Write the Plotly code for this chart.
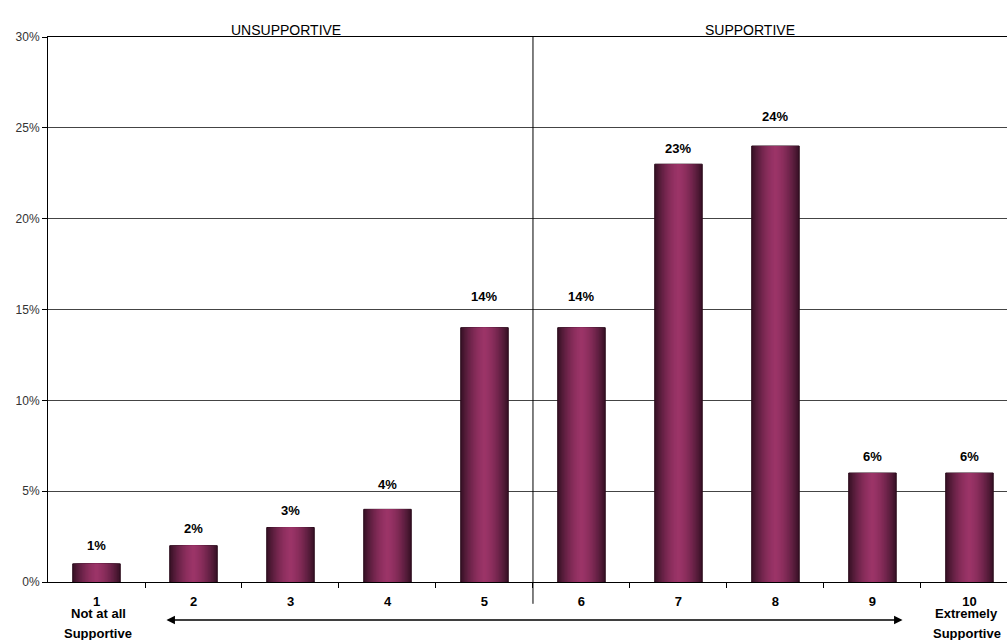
import plotly.graph_objects as go

# Survey distribution: share of respondents at each point of a 1-10 scale
scale_points = list(range(1, 11))
tick_labels = ["1", "2", "3", "4", "5", "6", "7", "8", "9", "10"]
shares = [1, 2, 3, 4, 14, 14, 23, 24, 6, 6]
label_lift = [18, 17, 17, 25, 31, 31, 16, 30, 17, 17]  # px gap between bar top and its label

FONT = "Liberation Sans, Arial, sans-serif"
BAR_WIDTH = 0.49
EDGE = (0x3a, 0x12, 0x28)
CENTER = (0x9c, 0x34, 0x68)

def mix(t):
    r, g, b = (round(c + (e - c) * t) for c, e in zip(CENTER, EDGE))
    return f"rgb({r},{g},{b})"

fig = go.Figure()

# Cylinder-like shading: stacked overlaid bars, narrowing toward a lighter core
layers = 16
for k in range(layers):
    frac = 1 - k / layers
    fig.add_trace(go.Bar(
        x=scale_points, y=shares, width=BAR_WIDTH * frac,
        marker=dict(color=mix(frac ** 1.6),
                    line=dict(color="#2a0a1a", width=1 if k == 0 else 0)),
        hoverinfo="skip" if k else None, showlegend=False,
    ))

annotations = []
for xv, yv, lift in zip(scale_points, shares, label_lift):
    annotations.append(dict(x=xv, y=yv, text=f"{yv}%", showarrow=False,
                            yanchor="middle", yshift=lift,
                            font=dict(family=FONT, size=13, color="black", weight="bold")))

# Section headings
annotations += [
    dict(x=2.95, y=1.031, yref="paper", text="UNSUPPORTIVE", showarrow=False,
         font=dict(family=FONT, size=14, color="black")),
    dict(x=7.74, y=1.031, yref="paper", text="SUPPORTIVE", showarrow=False,
         font=dict(family=FONT, size=14, color="black")),
]

# Scale end descriptions
for xv, lines in [(1.02, ("Not at all", "Supportive")), (9.97, ("Extremely", "Supportive"))]:
    for i, line in enumerate(lines):
        annotations.append(dict(x=xv, y=0, yref="paper", text=line, showarrow=False,
                                yanchor="middle", yshift=-31 - 20 * i,
                                font=dict(family=FONT, size=13, color="black", weight="bold")))

# Double-headed arrow under the axis
annotations.append(dict(x=9.31, y=-0.0697, yref="paper", ax=1.706, ay=0,
                        axref="x", ayref="pixel", text="", showarrow=True,
                        arrowhead=2, startarrowhead=2, arrowside="end+start",
                        arrowsize=1.3, startarrowsize=1.3, arrowwidth=1.3, arrowcolor="black"))

fig.update_layout(
    width=1007, height=640,
    margin=dict(l=48, r=0, t=37, b=58),
    paper_bgcolor="white", plot_bgcolor="white",
    barmode="overlay",
    annotations=annotations,
    shapes=[dict(type="line", xref="x", yref="paper", x0=5.5, x1=5.5,
                 y0=-0.04, y1=1, line=dict(color="black", width=1))],
    xaxis=dict(range=[0.5, 10.387], tickvals=scale_points, ticktext=tick_labels,
               ticks="", showline=True, linecolor="black", linewidth=1, mirror=True,
               showgrid=False, zeroline=False, ticklabelstandoff=7,
               tickfont=dict(family=FONT, size=13, color="black", weight="bold"),
               minor=dict(tickvals=[i + 0.5 for i in range(1, 10)], ticks="outside",
                          ticklen=5, tickcolor="black", showgrid=False)),
    yaxis=dict(range=[0, 30], dtick=5, ticksuffix="%", showline=True,
               linecolor="black", linewidth=1, ticks="outside", ticklen=5,
               tickcolor="black", gridcolor="#444", gridwidth=1, zeroline=False,
               tickfont=dict(family=FONT, size=12, color="#333")),
)

fig.write_html("out.html")
